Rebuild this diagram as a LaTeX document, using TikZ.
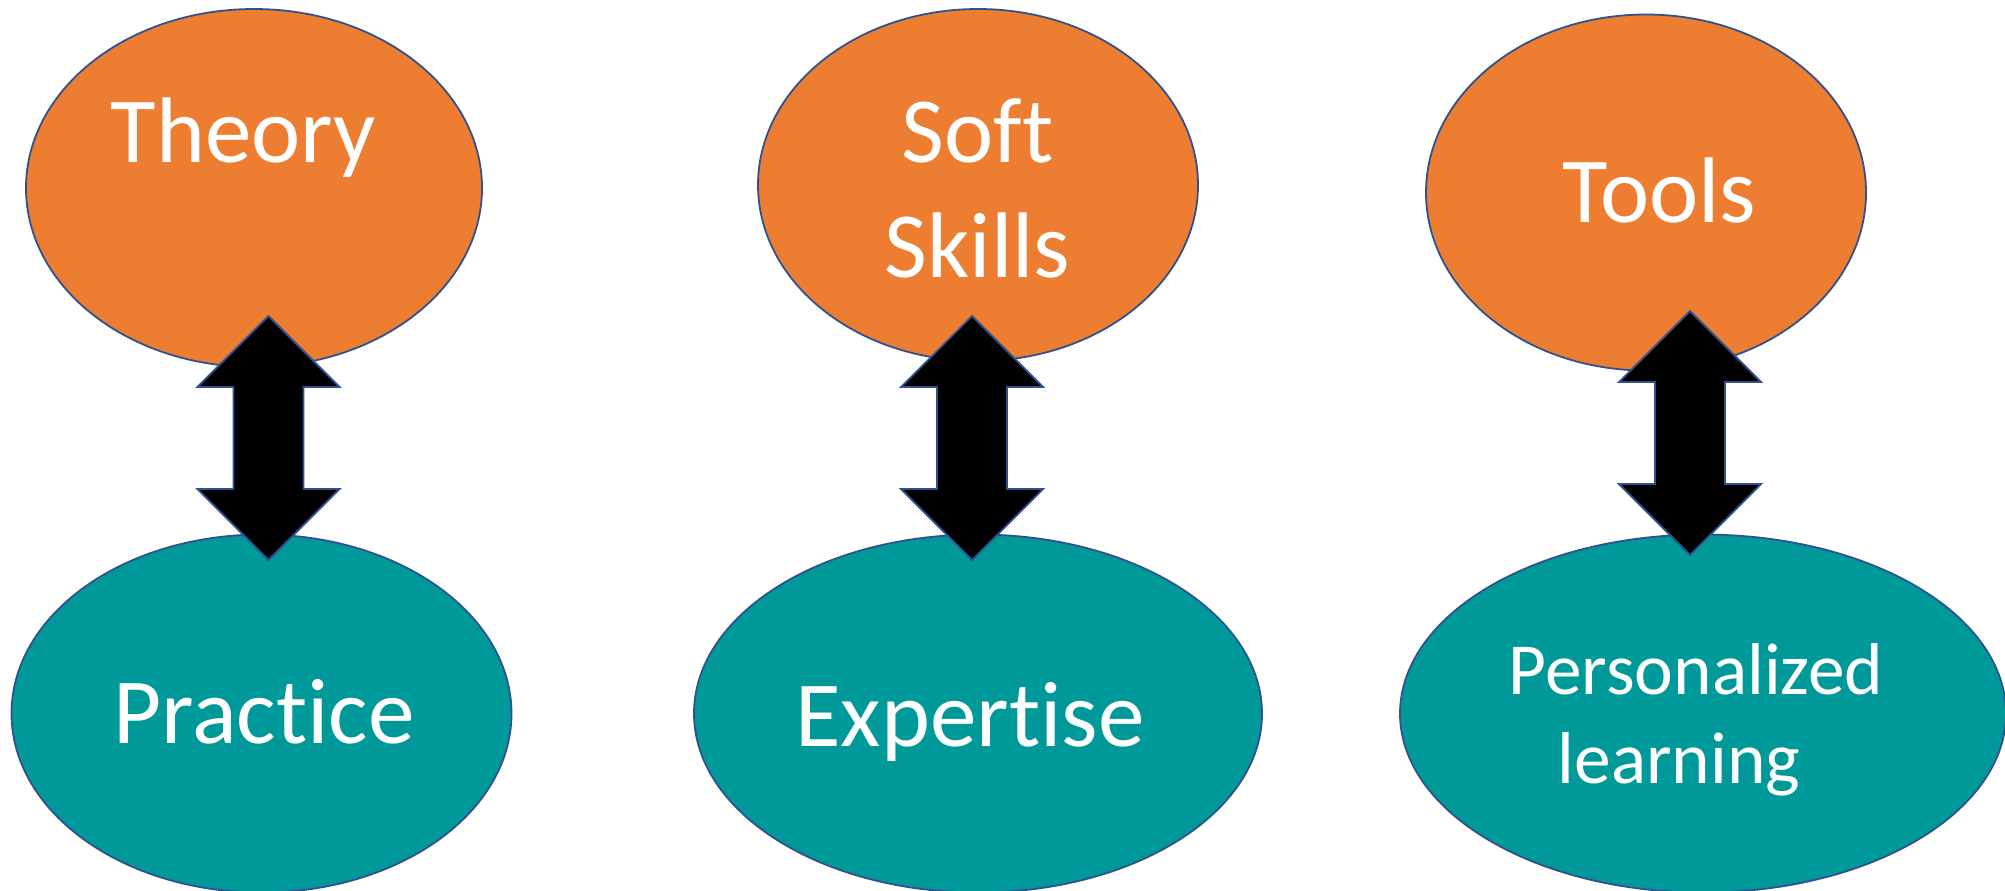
\documentclass[tikz,border=0pt]{standalone}
\usepackage{fontspec}
\setmainfont{Carlito}[Ligatures=NoCommon]
\usetikzlibrary{shapes.geometric}
\definecolor{orangeF}{HTML}{ED7D31}
\definecolor{tealF}{HTML}{009999}
\definecolor{edgeB}{HTML}{2F528F}
\begin{document}
\begin{tikzpicture}[x=0.5pt,y=-0.5pt,
  bub/.style={ellipse, draw=edgeB, line width=0.9pt, inner sep=0pt},
  topbub/.style={bub, fill=orangeF},
  botbub/.style={bub, fill=tealF},
  big/.style={text=white, font=\fontsize{46.6}{56}\selectfont, anchor=base, inner sep=0pt},
  small/.style={text=white, font=\fontsize{36.7}{44}\selectfont, anchor=base, inner sep=0pt},
  dblarrow/.style={fill=black, draw=edgeB, line width=0.9pt, line join=miter}]
\useasboundingbox (0,0) rectangle (2005,890);
% ellipses
\node[topbub, minimum width=228pt, minimum height=179pt] (theory) at (254,188) {};
\node[botbub, minimum width=250pt, minimum height=179pt] (practice) at (261.5,713.5) {};
\node[topbub, minimum width=220pt, minimum height=176pt] (soft) at (978,185) {};
\node[botbub, minimum width=284pt, minimum height=179pt] (expertise) at (978,713.5) {};
\node[topbub, minimum width=220pt, minimum height=178pt] (tools) at (1646,192.5) {};
\node[botbub, minimum width=303pt, minimum height=179pt] (personal) at (1703,713.5) {};
% arrows
\coordinate (a1) at (268.5,316);
\coordinate (a2) at (972,316);
\coordinate (a3) at (1690,311);
\foreach \c in {a1,a2,a3}{
  \draw[dblarrow] (\c) -- ++(71,71) -- ++(-36,0) -- ++(0,102) -- ++(36,0) -- ++(-71,71)
     -- ++(-71,-71) -- ++(36,0) -- ++(0,-102) -- ++(-36,0) -- cycle;
}
% texts
\node[big] (tTheory) at (243.5,162) {Theory};
\node[big] (tSoft) at (977.5,162) {Soft};
\node[big] (tSkills) at (977.5,277) {Skills};
\node[big] (tTools) at (1659.5,222) {Tools};
\node[big] (tPractice) at (264,743) {Practice};
\node[big] (tExpertise) at (970,746) {Expertise};
\node[small] (tPers) at (1696,694) {Personalized};
\node[small] (tLearn) at (1679,783) {learning};
\end{tikzpicture}
\end{document}
